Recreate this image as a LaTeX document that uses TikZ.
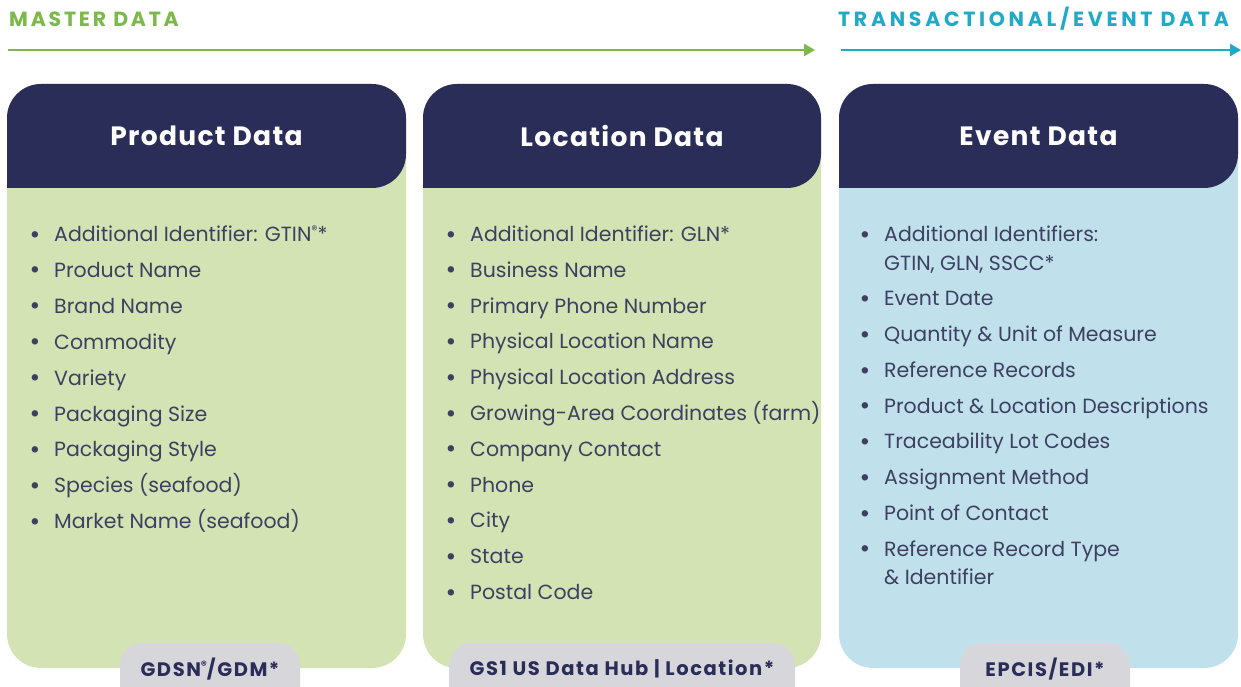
\documentclass[tikz,border=0pt]{standalone}
\usepackage{fontspec}
\setmainfont{Poppins}
\usetikzlibrary{arrows.meta}
\definecolor{navy}{RGB}{43,45,89}
\definecolor{gbody}{RGB}{212,227,179}
\definecolor{bbody}{RGB}{192,225,236}
\definecolor{tabgrey}{RGB}{215,215,219}
\definecolor{txt}{RGB}{61,64,96}
\definecolor{mgreen}{RGB}{124,184,74}
\definecolor{teal}{RGB}{31,170,200}
\newcommand{\regm}{\raisebox{0.35em}{\scalebox{0.6}{\textregistered}}}
\tikzset{
  item/.style={anchor=base west, inner sep=0pt, text=txt, font=\fontsize{20.5}{24}\selectfont},
  bul/.style={anchor=base, inner sep=0pt, text=txt, font=\fontsize{26}{28}\selectfont},
  head/.style={text=white, font=\fontsize{26.5}{30}\bfseries\selectfont\addfontfeature{LetterSpace=5}, inner sep=0pt},
  tablbl/.style={text=navy, font=\fontsize{19.5}{22}\bfseries\selectfont\addfontfeature{LetterSpace=8}, inner sep=0pt},
  toplbl/.style={inner sep=0pt, anchor=west},
  tab/.style={fill=tabgrey, rounded corners=22pt},
  arr/.style={line width=2.5pt, -{Triangle[length=11pt,width=12pt]}}
}
\begin{document}
\begin{tikzpicture}[x=1pt,y=-1pt]
\useasboundingbox (0,0) rectangle (1241,687);
\clip (0,0) rectangle (1241,687);
% top labels and arrows
\node[toplbl, text=mgreen, font=\fontsize{20.5}{22}\bfseries\selectfont\addfontfeature{LetterSpace=13.5}] (master) at (9,19) {MASTER DATA};
\node[toplbl, text=teal, font=\fontsize{20.5}{22}\bfseries\selectfont\addfontfeature{LetterSpace=18}] (trans) at (838,19) {TRANSACTIONAL/EVENT DATA};
\coordinate (ga) at (8,50); \coordinate (gb) at (815,50);
\coordinate (ta) at (841,50); \coordinate (tb) at (1241,50);
\draw[arr, mgreen] (ga) -- (gb);
\draw[arr, teal] (ta) -- (tb);
% boxes
\foreach \xa/\xb/\col in {7/406/gbody, 423/821/gbody, 839/1238/bbody}{
  \fill[\col, rounded corners=34pt] (\xa,84) rectangle (\xb,668);
  \fill[navy, rounded corners=34pt] (\xa,188) -- (\xa,84) -- (\xb,84) -- (\xb,188) [sharp corners] -- cycle;
}
% headers
\node[head] (h1) at (206.5,136) {Product Data};
\node[head] (h2) at (622,136) {Location Data};
\node[head] (h3) at (1038.5,136) {Event Data};
% product list
\foreach \t [count=\i] in {Additional Identifier: GTIN\regm*, Product Name, Brand Name, Commodity, Variety, Packaging Size, Packaging Style, Species (seafood), Market Name (seafood)}{
  \node[bul] (pb\i) at (35,243+35.9*\i-35.9) {•};
  \node[item] (p\i) at (54,241.5+35.9*\i-35.9) {\t};
}
% location list
\foreach \t [count=\i] in {Additional Identifier: GLN*, Business Name, Primary Phone Number, Physical Location Name, Physical Location Address, Growing-Area Coordinates (farm), Company Contact, Phone, City, State, Postal Code}{
  \node[bul] (lb\i) at (451,243+35.8*\i-35.8) {•};
  \node[item] (l\i) at (470,241.5+35.8*\i-35.8) {\t};
}
% event list
\foreach \y/\t/\b [count=\i] in {241.5/{Additional Identifiers:}/1, 270.5/{GTIN, GLN, SSCC*}/0, 305.5/{Event Date}/1, 341.5/{Quantity \& Unit of Measure}/1, 377.5/{Reference Records}/1, 413/{Product \& Location Descriptions}/1, 448.5/{Traceability Lot Codes}/1, 484.5/{Assignment Method}/1, 520.5/{Point of Contact}/1, 556/{Reference Record Type}/1, 584.5/{\& Identifier}/0}{
  \ifnum\b=1 \node[bul] (eb\i) at (865,\y+1.5) {•}; \fi
  \node[item] (e\i) at (884,\y) {\t};
}
% tabs
\fill[tab] (120,643) rectangle (300,710);
\fill[tab] (449,643) rectangle (795,710);
\fill[tab] (960,643) rectangle (1130,710);
\node[tablbl] (t1) at (210,669) {GDSN\regm/GDM*};
\node[tablbl] (t2) at (622,669) {GS1 US Data Hub | Location*};
\node[tablbl] (t3) at (1045,669) {EPCIS/EDI*};
\end{tikzpicture}
\end{document}
